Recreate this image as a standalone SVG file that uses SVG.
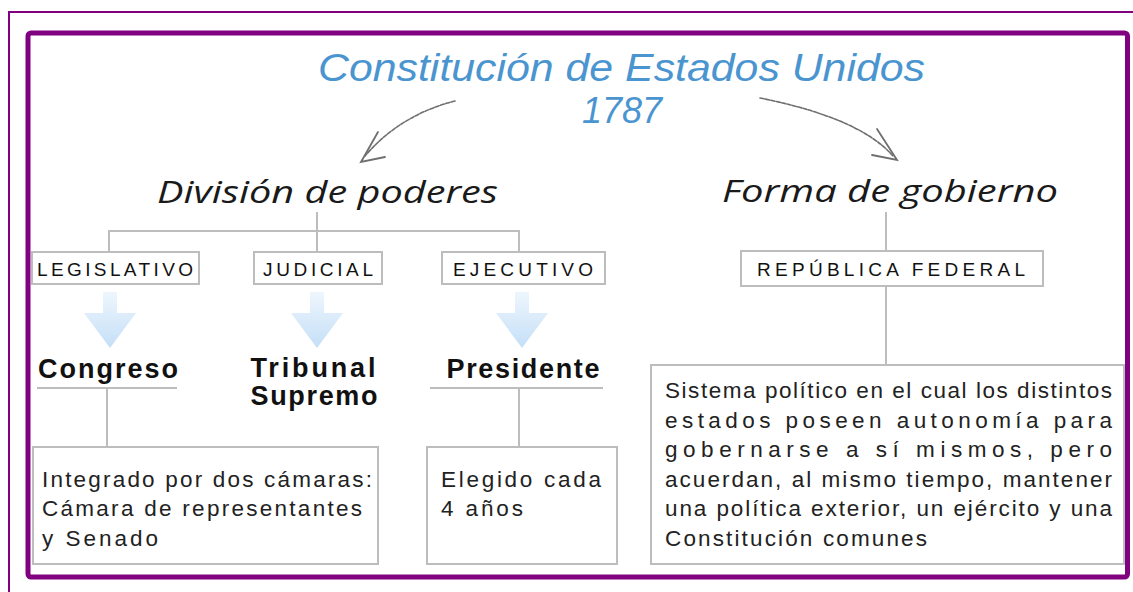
<svg xmlns="http://www.w3.org/2000/svg" width="1133" height="592" viewBox="0 0 1133 592">
<defs>
<linearGradient id="ag" x1="0" y1="0" x2="0" y2="1">
<stop offset="0" stop-color="#eef6fd"/>
<stop offset="1" stop-color="#c4dff7"/>
</linearGradient>
<path id="barrow" d="M-7,0 H7 V21 H26 L0,56 L-26,21 H-7 Z" fill="url(#ag)"/>
<style>
.box{fill:#fff;stroke:#bdbdbd;stroke-width:2}
.ln{fill:none;stroke:#bdbdbd;stroke-width:2}
.arc{fill:none;stroke:#6f6f6f;stroke-width:1.6;stroke-linecap:round;stroke-dasharray:4 1.5}
.head{fill:none;stroke:#6f6f6f;stroke-width:1.8;stroke-linecap:round}
.lbl{font-family:"Liberation Sans",Arial,sans-serif;font-size:19px;fill:#111}
.big{font-family:"Liberation Sans",Arial,sans-serif;font-size:27px;font-weight:bold;fill:#111;text-anchor:middle}
.desc{font-family:"Liberation Sans",Arial,sans-serif;font-size:22.5px;fill:#222}
.hand{font-family:"Open Sans","DejaVu Sans",sans-serif;font-style:italic;fill:#1a1a1a;font-size:31px}
.title{font-family:"Liberation Sans",Arial,sans-serif;font-style:italic;fill:#4a95d0}
</style>
</defs>
<rect x="0" y="0" width="1133" height="592" fill="#fff"/>
<rect x="9" y="12" width="1140" height="600" fill="none" stroke="#800080" stroke-width="2"/>
<rect x="28" y="33" width="1099.5" height="544" rx="3" fill="#fff" stroke="#800080" stroke-width="5"/>

<g id="title">
<text class="title" x="318" y="81" font-size="38" textLength="607" lengthAdjust="spacingAndGlyphs">Constitución de Estados Unidos</text>
<text class="title" x="622" y="123" font-size="36" text-anchor="middle">1787</text>
</g>

<g id="connectors">
<path class="arc" d="M455,101 Q400,115 365,156"/>
<path class="head" d="M378,132 L361,162 L385,157"/>
<path class="arc" d="M760,98 Q860,118 893,156"/>
<path class="head" d="M877,129 L897,160 L872,155"/>
<path class="ln" d="M317,212 V252 M109,252 V231 H519 V252"/>
<path class="ln" d="M886,212 V251 M886,286 V365"/>
<path class="ln" d="M37,388 H177 M107,388 V447"/>
<path class="ln" d="M430,388 H603 M519,388 V447"/>
<use href="#barrow" x="110" y="292"/>
<use href="#barrow" x="317" y="292"/>
<use href="#barrow" x="522" y="292"/>
</g>

<g id="division">
<text class="hand" x="157" y="203" textLength="341" lengthAdjust="spacingAndGlyphs">División de poderes</text>
</g>
<g id="forma">
<text class="hand" x="722" y="202" textLength="336" lengthAdjust="spacingAndGlyphs">Forma de gobierno</text>
</g>

<g id="legislativo">
<rect class="box" x="32" y="252" width="167" height="32"/>
<text class="lbl" x="37" y="276" textLength="156" lengthAdjust="spacing">LEGISLATIVO</text>
</g>
<g id="judicial">
<rect class="box" x="254" y="252" width="128" height="32"/>
<text class="lbl" x="263" y="276" textLength="110" lengthAdjust="spacing">JUDICIAL</text>
</g>
<g id="ejecutivo">
<rect class="box" x="442" y="252" width="163" height="32"/>
<text class="lbl" x="453" y="276" textLength="140" lengthAdjust="spacing">EJECUTIVO</text>
</g>
<g id="republica">
<rect class="box" x="741" y="251" width="302" height="35"/>
<text class="lbl" x="757" y="276" textLength="268" lengthAdjust="spacing">REPÚBLICA FEDERAL</text>
</g>

<g id="congreso">
<text class="big" x="108" y="378" textLength="140" lengthAdjust="spacing">Congreso</text>
</g>
<g id="tribunal">
<text class="big" x="313" y="377" textLength="125" lengthAdjust="spacing">Tribunal</text>
<text class="big" x="314" y="405" textLength="127" lengthAdjust="spacing">Supremo</text>
</g>
<g id="presidente">
<text class="big" x="523" y="378" textLength="153" lengthAdjust="spacing">Presidente</text>
</g>

<g id="desc-legislativo">
<rect class="box" x="33" y="447" width="345" height="117"/>
<text class="desc" x="42" y="487" textLength="330" lengthAdjust="spacing">Integrado por dos cámaras:</text>
<text class="desc" x="42" y="516" textLength="320" lengthAdjust="spacing">Cámara de representantes</text>
<text class="desc" x="42" y="546" textLength="116" lengthAdjust="spacing">y Senado</text>
</g>
<g id="desc-ejecutivo">
<rect class="box" x="427" y="447" width="190" height="117"/>
<text class="desc" x="441" y="487" textLength="160" lengthAdjust="spacing">Elegido cada</text>
<text class="desc" x="441" y="516" textLength="82" lengthAdjust="spacing">4 años</text>
</g>
<g id="desc-republica">
<rect class="box" x="651" y="365" width="473" height="199"/>
<text class="desc" x="665" y="398" textLength="447" lengthAdjust="spacing">Sistema político en el cual los distintos</text>
<text class="desc" x="665" y="428" textLength="447" lengthAdjust="spacing">estados poseen autonomía para</text>
<text class="desc" x="665" y="457" textLength="447" lengthAdjust="spacing">gobernarse a sí mismos, pero</text>
<text class="desc" x="665" y="487" textLength="447" lengthAdjust="spacing">acuerdan, al mismo tiempo, mantener</text>
<text class="desc" x="665" y="516" textLength="447" lengthAdjust="spacing">una política exterior, un ejército y una</text>
<text class="desc" x="665" y="546" textLength="262" lengthAdjust="spacing">Constitución comunes</text>
</g>
</svg>
